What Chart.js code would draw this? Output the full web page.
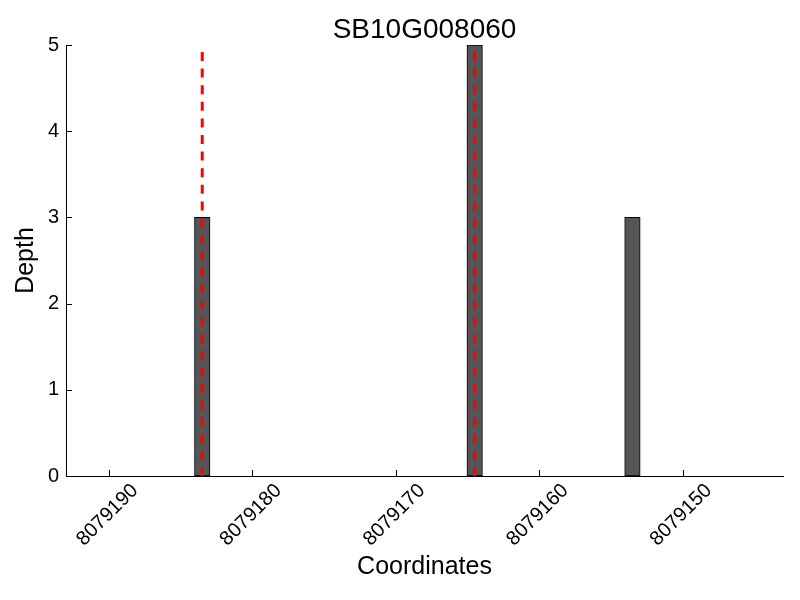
<!DOCTYPE html>
<html>
<head>
<meta charset="utf-8">
<title>SB10G008060</title>
<script src="https://cdn.jsdelivr.net/npm/chart.js@4.4.1/dist/chart.umd.min.js"></script>
<style>
  html, body { margin: 0; padding: 0; background: #fff; }
  canvas { display: block; }
</style>
</head>
<body>
<canvas id="depth-chart" width="800" height="600"></canvas>
<script>
const chartTitle = 'SB10G008060';
const coordinates = [8079183.5, 8079164.5, 8079153.5];
const depths = [3, 5, 3];
const markers = [8079183.5, 8079164.5];
const markerDepths = [0, 5];
const xTicks = [8079190, 8079180, 8079170, 8079160, 8079150];
const yTicks = [0, 1, 2, 3, 4, 5];
const xRange = [8079143, 8079193];

const fontFamily = "'Liberation Sans', Arial, Helvetica, sans-serif";

// matplotlib style: ticks point into the plot, x labels centred at 45 degrees
const innerTicks = {
    id: 'innerTicks',
    afterDraw(chart) {
        const ctx = chart.ctx;
        const xs = chart.scales.x;
        const ys = chart.scales.y;
        const area = chart.chartArea;
        ctx.save();
        ctx.strokeStyle = '#000';
        ctx.lineWidth = 1;
        ctx.beginPath();
        xTicks.forEach(v => {
            const px = Math.round(xs.getPixelForValue(v)) + 0.5;
            ctx.moveTo(px, area.bottom);
            ctx.lineTo(px, area.bottom - 6);
        });
        yTicks.forEach(v => {
            const py = Math.round(ys.getPixelForValue(v)) + 0.5;
            ctx.moveTo(area.left, py);
            ctx.lineTo(area.left + 6, py);
        });
        ctx.stroke();

        ctx.fillStyle = '#000';
        ctx.font = '20px ' + fontFamily;
        ctx.textAlign = 'center';
        ctx.textBaseline = 'middle';
        xTicks.forEach(v => {
            ctx.save();
            ctx.translate(xs.getPixelForValue(v) - 1.5, area.bottom + 39);
            ctx.rotate(-Math.PI / 4);
            ctx.fillText(String(v), 0, 0);
            ctx.restore();
        });
        ctx.restore();
    }
};

new Chart(document.getElementById('depth-chart'), {
    type: 'bar',
    data: {
        datasets: [
            ...markers.map(m => ({
                type: 'line',
                data: markerDepths.map(d => ({x: m, y: d})),
                borderColor: 'rgb(255, 0, 0)',
                borderWidth: 3,
                borderDash: [9, 7.6],
                pointRadius: 0,
                fill: false,
                order: 1
            })),
            {
                type: 'bar',
                data: coordinates.map((c, i) => ({x: c, y: depths[i]})),
                backgroundColor: '#555555',
                borderColor: '#000',
                borderWidth: 1,
                borderSkipped: false,
                barThickness: 15.5,
                order: 2
            }
        ]
    },
    options: {
        responsive: false,
        animation: false,
        layout: {
            padding: {right: 17}
        },
        plugins: {
            legend: {display: false},
            tooltip: {enabled: false},
            title: {
                display: true,
                text: chartTitle,
                fullSize: false,
                color: '#000',
                font: {family: fontFamily, size: 28, weight: 'normal', lineHeight: 1},
                padding: {top: 16, bottom: 1}
            }
        },
        scales: {
            x: {
                type: 'linear',
                reverse: true,
                min: xRange[0],
                max: xRange[1],
                offset: false,
                grid: {display: false, drawTicks: false},
                border: {display: true, color: '#000', width: 1},
                ticks: {display: false},
                title: {
                    display: true,
                    text: 'Coordinates',
                    color: '#000',
                    font: {family: fontFamily, size: 25, lineHeight: 1.2},
                    padding: {top: 0, bottom: 18}
                },
                afterFit(scale) {
                    scale.height = 124;
                }
            },
            y: {
                min: 0,
                max: 5,
                grid: {display: false, drawTicks: false},
                border: {display: true, color: '#000', width: 1},
                ticks: {
                    stepSize: 1,
                    color: '#000',
                    padding: 7,
                    font: {family: fontFamily, size: 20}
                },
                title: {
                    display: true,
                    text: 'Depth',
                    color: '#000',
                    font: {family: fontFamily, size: 25, lineHeight: 1.2},
                    padding: {top: 11, bottom: 0}
                },
                afterFit(scale) {
                    scale.width = 66;
                }
            }
        }
    },
    plugins: [innerTicks]
});
</script>
</body>
</html>
